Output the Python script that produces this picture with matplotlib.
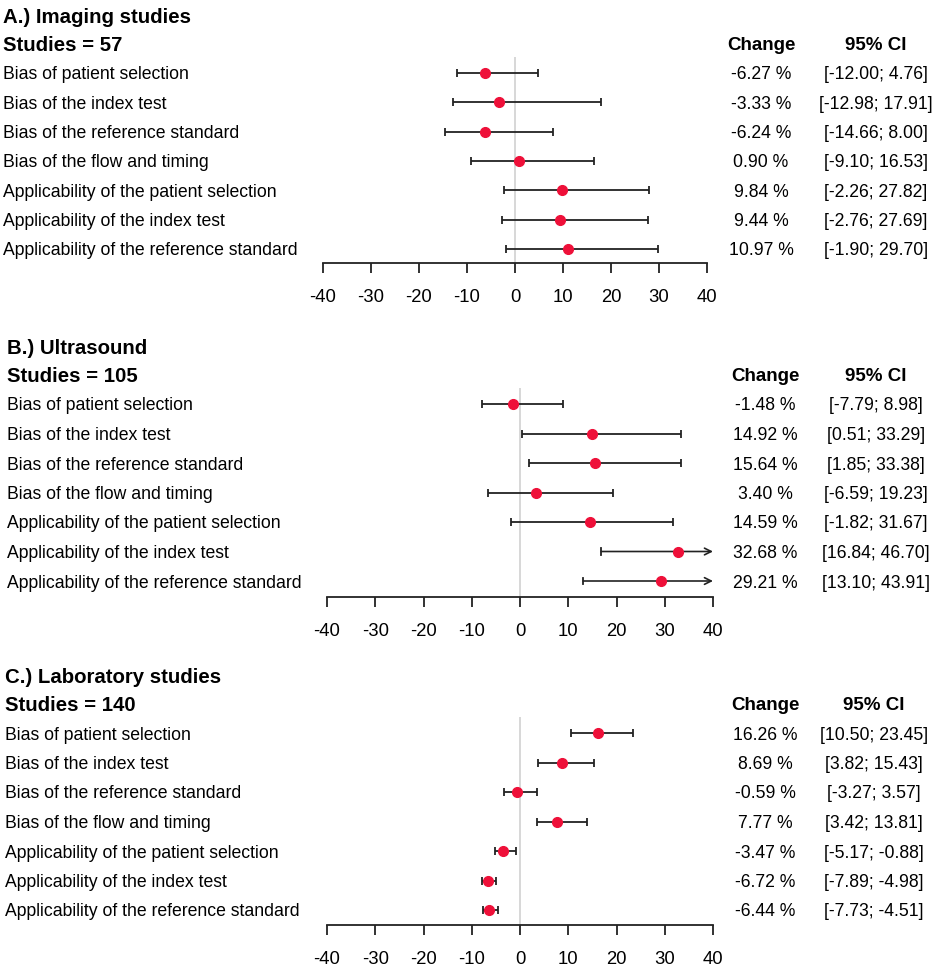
import matplotlib
matplotlib.use("Agg")
import matplotlib.pyplot as plt
import matplotlib.transforms as mtransforms

plt.rcParams['font.family'] = ['Liberation Sans', 'DejaVu Sans']

domains = ['Bias of patient selection', 'Bias of the index test',
           'Bias of the reference standard', 'Bias of the flow and timing',
           'Applicability of the patient selection',
           'Applicability of the index test',
           'Applicability of the reference standard']

titles = ['A.) Imaging studies', 'B.) Ultrasound', 'C.) Laboratory studies']
n_studies = [57, 105, 140]

change_a = [-6.27, -3.33, -6.24, 0.90, 9.84, 9.44, 10.97]
lo_a = [-12.00, -12.98, -14.66, -9.10, -2.26, -2.76, -1.90]
hi_a = [4.76, 17.91, 8.00, 16.53, 27.82, 27.69, 29.70]

change_b = [-1.48, 14.92, 15.64, 3.40, 14.59, 32.68, 29.21]
lo_b = [-7.79, 0.51, 1.85, -6.59, -1.82, 16.84, 13.10]
hi_b = [8.98, 33.29, 33.38, 19.23, 31.67, 46.70, 43.91]

change_c = [16.26, 8.69, -0.59, 7.77, -3.47, -6.72, -6.44]
lo_c = [10.50, 3.82, -3.27, 3.42, -5.17, -7.89, -7.73]
hi_c = [23.45, 15.43, 3.57, 13.81, -0.88, -4.98, -4.51]

ticks = [-40, -30, -20, -10, 0, 10, 20, 30, 40]

W, H = 932, 976
fig = plt.figure(figsize=(W / 100, H / 100), dpi=100)

# pixel layout of each panel: x of -40, x of 40, first row y, row step, axis y,
# label x, change column x, CI column x
layout = [
    (323, 707, 73, 29.33, 263, 3, 761, 876),
    (327, 713, 404, 29.5, 597, 7, 765, 876),
    (327, 713, 733, 29.5, 925, 5, 765, 874),
]
panels = [(change_a, lo_a, hi_a), (change_b, lo_b, hi_b), (change_c, lo_c, hi_c)]

red = '#EE1039'
dark = '#222222'
fs = 12.7

for p in range(3):
    x0, x1, r1, step, axy, lx, cx, cix = layout[p]
    change, lo, hi = panels[p]
    top = r1 - 16
    ax = fig.add_axes([x0 / W, 1 - axy / H, (x1 - x0) / W, (axy - top) / H])
    ax.set_xlim(-40, 40)
    ax.set_ylim(6 + (axy - (r1 + 6 * step)) / step, -16 / step)
    for s in ['top', 'right', 'left']:
        ax.spines[s].set_visible(False)
    ax.spines['bottom'].set_linewidth(1.3)
    ax.spines['bottom'].set_color(dark)
    ax.set_yticks([])
    ax.set_xticks(ticks)
    ax.set_xticklabels([str(t) for t in ticks])
    ax.tick_params(axis='x', length=7.5, width=1.3, color=dark, pad=11,
                   labelsize=13.3)
    ax.axvline(0, color='#d4d4d4', lw=1.3, zorder=1)

    for i in range(len(change)):
        right = min(hi[i], 40)
        if hi[i] > 40:
            # upper limit beyond the axis: arrow at the edge
            ax.annotate('', xy=(40, i), xytext=(lo[i], i),
                        arrowprops=dict(arrowstyle='->', lw=1.2, color=dark,
                                        shrinkA=0, shrinkB=0, mutation_scale=12))
            ax.plot([lo[i], lo[i]], [i - 0.11, i + 0.11], color=dark, lw=1.3)
        else:
            ax.errorbar(change[i], i, xerr=[[change[i] - lo[i]], [right - change[i]]],
                        fmt='none', ecolor=dark, elinewidth=1.3, capsize=3,
                        capthick=1.3, zorder=2)
        ax.plot(change[i], i, 'o', color=red, markersize=7, zorder=3)

    tr = mtransforms.blended_transform_factory(fig.transFigure, ax.transData)
    ax.text(lx / W, -1.95, titles[p], transform=tr, fontsize=14.7,
            fontweight='bold', va='center_baseline', ha='left')
    ax.text(lx / W, -1.0, 'Studies = %d' % n_studies[p], transform=tr,
            fontsize=14.7, fontweight='bold', va='center_baseline', ha='left')
    ax.text(cx / W, -1.0, 'Change', transform=tr, fontsize=13.5,
            fontweight='bold', va='center_baseline', ha='center')
    ax.text(cix / W, -1.0, '95% CI', transform=tr, fontsize=13.5,
            fontweight='bold', va='center_baseline', ha='center')
    for i in range(len(change)):
        ax.text(lx / W, i, domains[i], transform=tr, fontsize=fs,
                va='center_baseline', ha='left')
        ax.text(cx / W, i, '%.2f %%' % change[i], transform=tr, fontsize=fs,
                va='center_baseline', ha='center')
        ax.text(cix / W, i, '[%.2f; %.2f]' % (lo[i], hi[i]), transform=tr,
                fontsize=fs, va='center_baseline', ha='center')

fig.savefig('out.png', dpi=100)
